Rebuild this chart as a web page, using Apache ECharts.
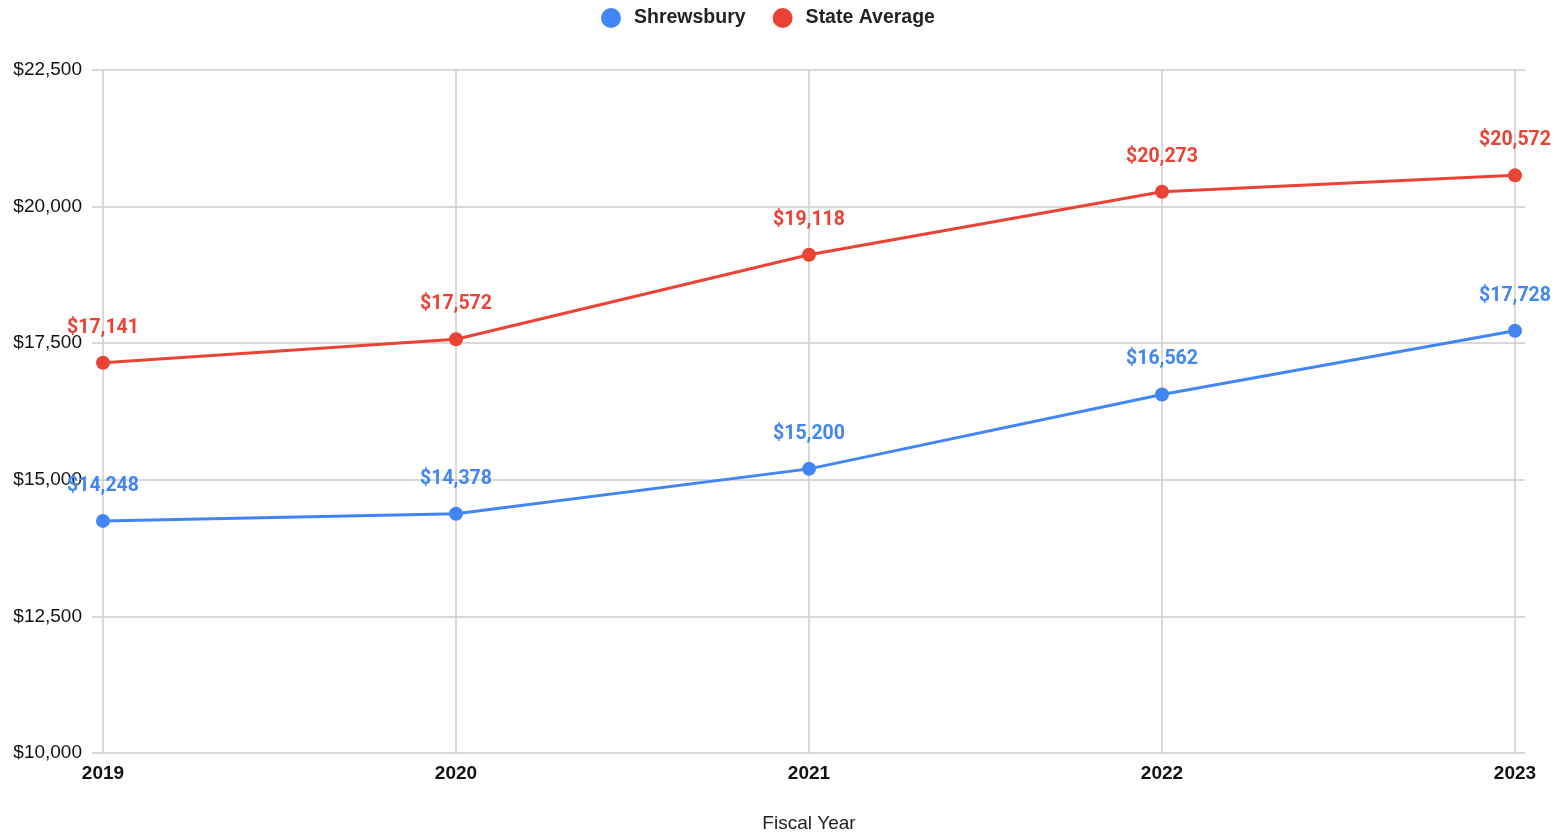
<!DOCTYPE html>
<html><head><meta charset="utf-8">
<script src="https://cdn.jsdelivr.net/npm/echarts@6/dist/echarts.min.js"></script>
<style>html,body{margin:0;padding:0;background:#fff}#c{width:1564px;height:832px}</style>
</head><body><div id="c"></div>
<script>
const categories = ['2019','2020','2021','2022','2023'];
const shrewsbury = [14248, 14378, 15200, 16562, 17728];
const stateAverage = [17141, 17572, 19118, 20273, 20572];
const seriesNames = ['Shrewsbury', 'State Average'];
const colors = ['#4285F4', '#EA4335'];

const fmt = v => '$' + v.toLocaleString('en-US');
const chart = echarts.init(document.getElementById('c'));
const gridCol = '#cccccc';
const mkSeries = (name, data, color) => ({
  name, type: 'line', data, color,
  symbol: 'circle', symbolSize: 14,
  lineStyle: { width: 3, color },
  itemStyle: { color },
  label: { show: true, position: 'top', distance: 18, formatter: p => fmt(p.value),
    color, fontFamily: 'Roboto', fontWeight: 'bold', fontSize: 19.5 }
});
chart.setOption({
  animation: false,
  legend: { top: 3, left: 596, itemWidth: 20, itemHeight: 20, itemGap: 27, icon: 'circle',
    textStyle: { fontFamily: 'Liberation Sans', fontWeight: 'bold', fontSize: 19.5, color: '#222', padding: [0, 0, 0, 8] },
    data: seriesNames },
  grid: { left: 103, right: 49, top: 70, bottom: 79, outerBoundsMode: 'none' },
  xAxis: { type: 'category', data: categories, boundaryGap: false,
    axisLine: { show: false }, axisTick: { show: false },
    splitLine: { show: true, lineStyle: { color: gridCol, width: 1.5 } },
    axisLabel: { fontFamily: 'Liberation Sans', fontWeight: 'bold', fontSize: 19, color: '#111', margin: 11 },
    name: 'Fiscal Year', nameLocation: 'middle', nameGap: 61,
    nameTextStyle: { fontFamily: 'Liberation Sans', fontSize: 19, color: '#222' } },
  yAxis: [{ type: 'value', min: 10000, max: 22500, interval: 2500,
    axisLine: { show: false },
    axisTick: { show: true, length: 11, lineStyle: { color: gridCol, width: 1.5 } },
    splitLine: { show: true, lineStyle: { color: gridCol, width: 1.5 } },
    axisLabel: { formatter: v => fmt(v), fontFamily: 'Liberation Sans', fontSize: 19, color: '#111', margin: 21 } },
    { type: 'value', position: 'right', min: 10000, max: 22500, interval: 2500,
    axisLine: { show: false }, axisLabel: { show: false }, splitLine: { show: false },
    axisTick: { show: true, length: 10, inside: false, lineStyle: { color: gridCol, width: 1.5 } } }],
  series: [mkSeries(seriesNames[0], shrewsbury, colors[0]), mkSeries(seriesNames[1], stateAverage, colors[1])]
});
</script></body></html>
